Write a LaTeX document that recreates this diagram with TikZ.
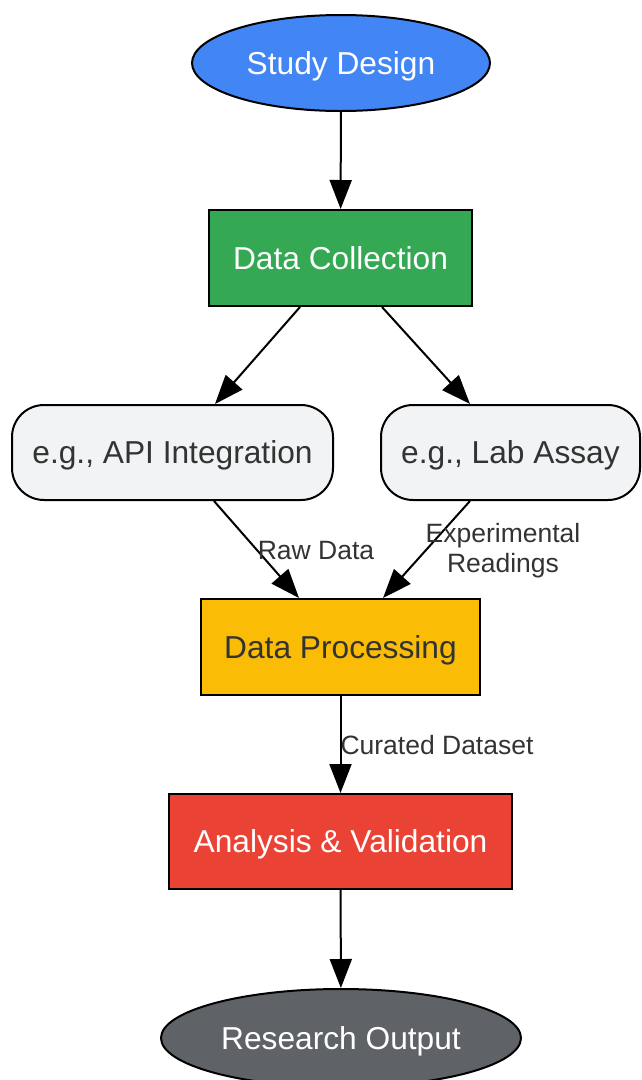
\documentclass[tikz,border=0pt]{standalone}
\usepackage{fontspec}
\setmainfont{Liberation Sans}
\usepackage{tikz}
\usetikzlibrary{arrows.meta, shapes.geometric, positioning, calc}
\usepackage{xcolor}

\definecolor{gblue}{HTML}{4285F4}
\definecolor{ggreen}{HTML}{34A853}
\definecolor{glight}{HTML}{F1F3F4}
\definecolor{gyellow}{HTML}{FBBC05}
\definecolor{gred}{HTML}{EA4335}
\definecolor{ggray}{HTML}{5F6368}
\definecolor{txtdark}{HTML}{333333}

\begin{document}
\begin{tikzpicture}[x=1pt, y=-1pt,
    box/.style={draw=black, line width=2pt, inner sep=0pt, text height=22.7pt, text depth=0pt, font=\fontsize{31.7}{38}\selectfont},
    oval/.style={box, ellipse},
    edgelbl/.style={inner sep=0pt, align=center, text=txtdark, font=\fontsize{26.5}{30}\selectfont},
    flow/.style={line width=2pt, -{Triangle[length=29pt, width=22pt]}}]
      \useasboundingbox (0, 0) rectangle (641, 1080);

      \node[oval, fill=gblue, text=white, minimum width=298pt, minimum height=96pt] (study) at (341, 63) {Study Design};
      \node[box, fill=ggreen, text=white, minimum width=263pt, minimum height=96pt] (collect) at (340.5, 258) {Data Collection};
      \node[box, rounded corners=32pt, fill=glight, text=txtdark, minimum width=321pt, minimum height=95pt] (api) at (172.5, 452.5) {e.g., API Integration};
      \node[box, rounded corners=32pt, fill=glight, text=txtdark, minimum width=259pt, minimum height=95pt] (lab) at (510.5, 452.5) {e.g., Lab Assay};
      \node[box, fill=gyellow, text=txtdark, minimum width=279pt, minimum height=96pt] (process) at (340.5, 647) {Data Processing};
      \node[box, fill=gred, text=white, minimum width=343pt, minimum height=95pt] (analysis) at (340.5, 841.5) {Analysis \& Validation};
      \node[oval, fill=ggray, text=white, minimum width=360pt, minimum height=98pt] (output) at (341, 1038) {Research Output};

      \draw[flow] (study) -- (collect);
      \draw[flow] ([xshift=-40.5pt]collect.south) -- ([xshift=42.5pt]api.north);
      \draw[flow] ([xshift=41.5pt]collect.south) -- ([xshift=-40.5pt]lab.north);
      \draw[flow] ([xshift=41.5pt]api.south) -- ([xshift=-41.5pt]process.north);
      \draw[flow] ([xshift=-40.5pt]lab.south) -- ([xshift=42.5pt]process.north);
      \draw[flow] (process) -- (analysis);
      \draw[flow] (analysis) -- (output);

      \node[edgelbl] (rawlbl) at (316, 551) {Raw Data};
      \node[edgelbl] (explbl) at (503, 551) {Experimental\\Readings};
      \node[edgelbl] (curlbl) at (437, 745) {Curated Dataset};

    \end{tikzpicture}
\end{document}
